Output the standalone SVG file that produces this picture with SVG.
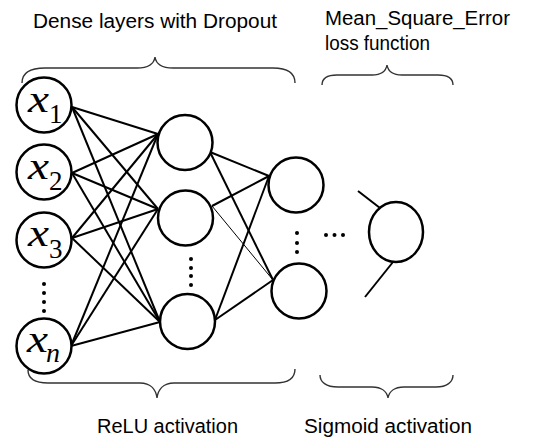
<svg xmlns="http://www.w3.org/2000/svg" width="560" height="442" viewBox="0 0 560 442">
<style>
.node{fill:#fff;stroke:#000;stroke-width:2.5}
.edge{stroke:#000;stroke-width:2;fill:none}
.thin{stroke:#000;stroke-width:1;fill:none}
.brace{stroke:#333;stroke-width:1.4;fill:none}
.lbl{font-family:"Liberation Sans",Arial,sans-serif;font-size:20px;fill:#000}
.mx{font-family:"Liberation Serif","Times New Roman",serif;font-style:italic;font-size:38px;fill:#000}
.sub{font-family:"Liberation Serif","Times New Roman",serif;font-size:27px;fill:#000}
.subi{font-family:"Liberation Serif","Times New Roman",serif;font-style:italic;font-size:28px;fill:#000}
.dot{fill:#000}
</style>
<rect width="560" height="442" fill="#fff"/>
<g id="connectors">
  <line class="edge" x1="72" y1="107" x2="158" y2="134"/>
  <line class="edge" x1="72" y1="107" x2="158" y2="209"/>
  <line class="edge" x1="72" y1="107" x2="160" y2="322"/>
  <line class="edge" x1="72" y1="173" x2="158" y2="134"/>
  <line class="edge" x1="72" y1="173" x2="158" y2="209"/>
  <line class="edge" x1="72" y1="173" x2="160" y2="322"/>
  <line class="edge" x1="72" y1="238" x2="158" y2="134"/>
  <line class="edge" x1="72" y1="238" x2="158" y2="209"/>
  <line class="edge" x1="72" y1="238" x2="160" y2="322"/>
  <line class="edge" x1="71" y1="346" x2="158" y2="134"/>
  <line class="edge" x1="71" y1="346" x2="158" y2="209"/>
  <line class="edge" x1="71" y1="346" x2="160" y2="322"/>
  <line class="edge" x1="210" y1="152" x2="269" y2="176"/>
  <line class="edge" x1="210" y1="152" x2="273" y2="280"/>
  <line class="edge" x1="212" y1="206" x2="269" y2="176"/>
  <line class="thin" x1="212" y1="206" x2="273" y2="280"/>
  <line class="edge" x1="215" y1="320" x2="269" y2="176"/>
  <line class="edge" x1="215" y1="320" x2="273" y2="280"/>
  <line class="edge" x1="358" y1="191" x2="380" y2="208"/>
  <line class="edge" x1="393" y1="262" x2="365" y2="297"/>
</g>
<g id="braces">
  <path class="brace" d="M22,83 C22,73 30,68 45,68 L137,68 C149,68 154,64 155,57 C156,64 161,68 173,68 L273,68 C288,68 295,73 295,83"/>
  <path class="brace" d="M322,85 C322,79 327,75 337,75 L372,75 C382,75 386,71 387,65 C388,71 392,75 402,75 L438,75 C448,75 453,79 453,85"/>
  <path class="brace" d="M28,370 C28,379 35,383 48,383 L140,383 C151,383 156,390 157,398 C158,390 163,383 174,383 L275,383 C288,383 295,378 295,369"/>
  <path class="brace" d="M320,375 C320,382 326,387 338,387 L372,387 C382,387 387,392 388,398 C389,392 394,387 404,387 L436,387 C447,387 453,382 453,375"/>
</g>
<g id="x1"><circle class="node" cx="44" cy="105" r="27.5"/><text class="mx" x="28" y="112" textLength="21" lengthAdjust="spacingAndGlyphs">x</text><text class="sub" x="49" y="123">1</text></g>
<g id="x2"><circle class="node" cx="44" cy="172" r="27.5"/><text class="mx" x="28" y="179" textLength="21" lengthAdjust="spacingAndGlyphs">x</text><text class="sub" x="49" y="190">2</text></g>
<g id="x3"><circle class="node" cx="44" cy="240" r="27.5"/><text class="mx" x="28" y="246" textLength="21" lengthAdjust="spacingAndGlyphs">x</text><text class="sub" x="49" y="258">3</text></g>
<g id="xdots"><circle class="dot" cx="44" cy="284" r="2"/><circle class="dot" cx="44" cy="293" r="2"/><circle class="dot" cx="44" cy="302" r="2"/><circle class="dot" cx="44" cy="311" r="2"/></g>
<g id="xn"><circle class="node" cx="44" cy="346" r="27.5"/><text class="mx" x="27" y="352" textLength="21" lengthAdjust="spacingAndGlyphs">x</text><text class="subi" x="46" y="362">n</text></g>
<g id="h1a"><circle class="node" cx="185" cy="142.5" r="27.5"/></g>
<g id="h1b"><circle class="node" cx="185.5" cy="218" r="27.5"/></g>
<g id="h1dots"><circle class="dot" cx="191" cy="259" r="2"/><circle class="dot" cx="191" cy="268" r="2"/><circle class="dot" cx="191" cy="276" r="2"/><circle class="dot" cx="191" cy="285" r="2"/></g>
<g id="h1c"><circle class="node" cx="187.5" cy="321.5" r="27.5"/></g>
<g id="h2a"><circle class="node" cx="296" cy="185" r="27.5"/></g>
<g id="h2dots"><circle class="dot" cx="297" cy="233" r="2"/><circle class="dot" cx="297" cy="243" r="2"/><circle class="dot" cx="297" cy="252" r="2"/></g>
<g id="h2b"><circle class="node" cx="299" cy="291" r="27.5"/></g>
<g id="hdots"><circle class="dot" cx="326" cy="235" r="2"/><circle class="dot" cx="334.5" cy="235" r="2"/><circle class="dot" cx="343" cy="235" r="2"/></g>
<g id="out"><ellipse class="node" cx="396" cy="232" rx="27" ry="30"/></g>
<g id="labels">
  <text class="lbl" x="33" y="28" textLength="244" lengthAdjust="spacingAndGlyphs">Dense layers with Dropout</text>
  <text class="lbl" x="325" y="25" textLength="185" lengthAdjust="spacingAndGlyphs">Mean_Square_Error</text>
  <text class="lbl" x="325" y="50" textLength="105" lengthAdjust="spacingAndGlyphs">loss function</text>
  <text class="lbl" x="97" y="433" textLength="141" lengthAdjust="spacingAndGlyphs">ReLU activation</text>
  <text class="lbl" x="304" y="433" textLength="168" lengthAdjust="spacingAndGlyphs">Sigmoid activation</text>
</g>
</svg>
